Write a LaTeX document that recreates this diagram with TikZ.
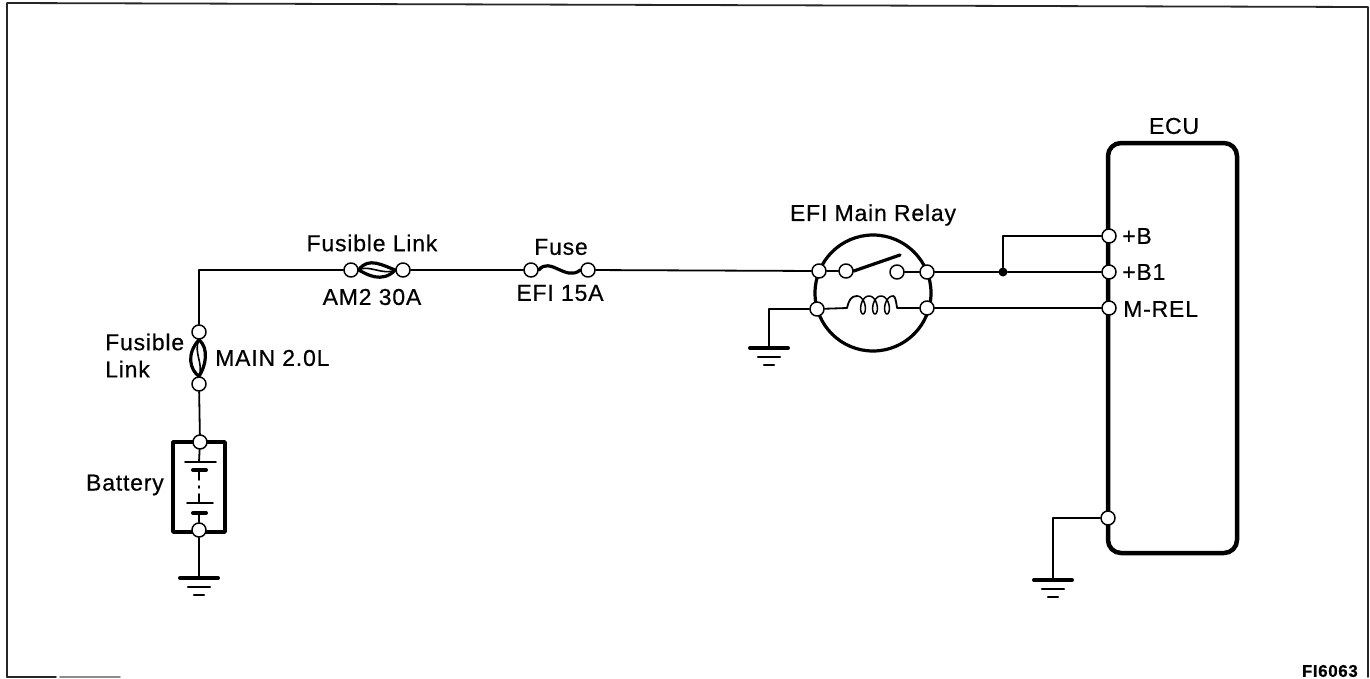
\documentclass[tikz,border=0pt]{standalone}
\usepackage{fontspec}
\setmainfont[LetterSpace=3.5,FakeBold=0.5]{Liberation Sans}
\usepackage{xcolor}
\colorlet{myframe}{black!85}
\colorlet{myfaded}{black!45}

\begin{document}
\begin{tikzpicture}[x=1pt, y=-1pt,
                    line cap=round, line join=round,
                    wire/.style={black, line width=1.8pt},
                    terminal/.style={circle, draw=black, fill=white, line width=1.5pt, minimum size=14pt, inner sep=0pt},
                    junction/.style={circle, fill=black, minimum size=9pt, inner sep=0pt},
                    caption/.style={font=\fontsize{23}{26}\selectfont, inner sep=0pt},
                    fusewire/.style={black, line width=3.2pt},
                    plate/.style={black, line width=1.8pt},
                    stub/.style={black, line width=4pt}]
  \useasboundingbox (0,0) rectangle (1370,678);
  \def\nCoil{3} % Number of coil turns

% Frame
  \draw[myframe, line width=1.8pt] (7,677) -- (7,3) -- (1368,7) -- (1368,677);
  \draw[myframe, line width=1.8pt] (7,677) -- (56,677);
  \draw[myfaded, line width=1.8pt] (60,677) -- (120,677);

% Boxes
  \node[draw, line width=4.5pt, rounded corners=13pt, minimum width=129pt, minimum height=410pt] (ecu) at (1172.5,348) {};
  \node[draw, circle, line width=3.2pt, minimum size=116pt, inner sep=0pt] (relay) at (873,293) {};
  \node[draw, line width=3.8pt, minimum width=52pt, minimum height=90pt, inner sep=0pt] (battery) at (199,487) {};

% Terminals
  \foreach \tName/\tX/\tY in {mainTop/199/332, mainBot/199/384, batTop/200/442, batBot/199/530,
                              amLeft/351/270, amRight/403/270, fuseLeft/531/270, fuseRight/588/270,
                              relayIn/819/271, relayOut/927/272, coilIn/817/309, coilOut/927/308,
                              switchPin/846/271, contactPin/897/272,
                              ecuB/1109/236, ecuBa/1109/272, ecuRel/1109/308, ecuGnd/1108/518}{
    \node[terminal] (\tName) at (\tX,\tY) {};
  }
  \node[junction] (split) at (1003,272) {};

% Ground points
  \coordinate (gndBat) at (199,578);
  \coordinate (gndRelay) at (769,348);
  \coordinate (gndEcu) at (1053,580);
  \foreach \gName in {gndBat,gndRelay,gndEcu}{
    \draw[stub] (\gName) ++(-19,0) -- ++(38,0);
    \draw[black, line width=2.2pt] (\gName) ++(-11,9) -- ++(22,0);
    \draw[black, line width=2.2pt] (\gName) ++(-5,17) -- ++(10,0);
  }

% Wires
  \draw[wire] (mainTop) |- (amLeft);
  \draw[wire] (amRight) -- (fuseLeft);
  \draw[wire] (fuseRight) -- (relayIn);
  \draw[wire] (relayIn) -- (switchPin);
  \draw[wire] (contactPin) -- (relayOut);
  \draw[wire] (relayOut) -- (split);
  \draw[wire] (split) -- (ecuBa);
  \draw[wire] (split) |- (ecuB);
  \draw[wire] (coilOut) -- (ecuRel);
  \draw[wire] (coilIn) -| (gndRelay);
  \draw[wire] (ecuGnd) -| (gndEcu);
  \draw[wire] (mainBot) -- (batTop);
  \draw[wire] (batBot) -- (gndBat);

% Fusible links
  \draw[fusewire] (mainTop.south) .. controls (186,354) and (190,370) .. (mainBot.north);
  \draw[fusewire] (mainTop.south) .. controls (209,348) and (206,366) .. (mainBot.north);
  \draw[black, line width=1.6pt] (mainTop.south) .. controls (193,352) and (204,364) .. (mainBot.north);
  \draw[fusewire] (amLeft.east) .. controls (368,256) and (384,266) .. (amRight.west);
  \draw[fusewire] (amLeft.east) .. controls (366,274) and (382,284) .. (amRight.west);
  \draw[black, line width=1.6pt] (amLeft.east) .. controls (368,264) and (384,276) .. (amRight.west);

% Fuse
  \draw[fusewire] (fuseLeft.east) .. controls (550,256) and (566,282) .. (fuseRight.west);

% Relay
  \draw[black, line width=3.2pt] (switchPin.east) -- (900,255);
  \draw[wire] (coilIn) -- (847,308) .. controls (849,300) and (851,296) .. (857,296);
  \draw[black, line width=1.5pt, variable=\t, domain=0:\nCoil*360, samples=120, smooth]
    plot ({857+12*\t/360+5*sin(\t)},{305-9*cos(\t)});
  \draw[wire] (893,296) .. controls (895,296) and (896,300) .. (897,308) -- (coilOut);

% Battery cells
  \draw[wire] (batTop) -- (199,462);
  \draw[plate] (185,462) -- (216,462);
  \draw[stub] (193,470) -- (206,470);
  \draw[wire] (199,472) -- (199,480);
  \draw[wire] (199,486) -- (199,488);
  \draw[wire] (199,494) -- (199,503);
  \draw[plate] (187,503) -- (213,503);
  \draw[stub] (193,513) -- (206,513);
  \draw[wire] (199,513) -- (batBot);

% Labels
  \node[caption] (ecuName) at (1174,126) {ECU};
  \node[caption, anchor=west] (bName) at (1122,236) {+B};
  \node[caption, anchor=west] (baName) at (1122,272) {+B1};
  \node[caption, anchor=west] (relName) at (1123,309) {M-REL};
  \node[caption] (relayName) at (873,215) {EFI Main Relay};
  \node[caption] (fuseName) at (561,247) {Fuse};
  \node[caption] (fuseRate) at (560,293) {EFI 15A};
  \node[caption] (amName) at (372,243) {Fusible Link};
  \node[caption] (amRate) at (372,297) {AM2 30A};
  \node[caption, anchor=west] (mainName) at (105,342) {Fusible};
  \node[caption, anchor=west] (mainNameB) at (105,369) {Link};
  \node[caption, anchor=west] (mainRate) at (215,358) {MAIN 2.0L};
  \node[caption, anchor=east] (batName) at (164,485) {Battery};
  \node[font=\fontsize{17}{18}\selectfont\bfseries, anchor=east, inner sep=0pt] (figName) at (1358,671) {FI6063};
\end{tikzpicture}
\end{document}
